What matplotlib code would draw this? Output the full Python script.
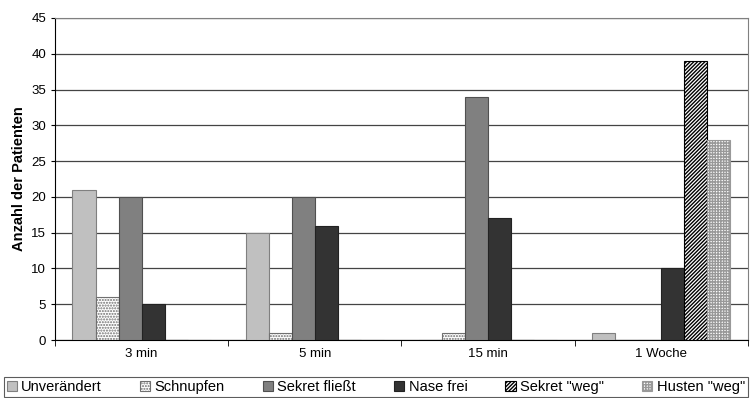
import numpy as np
import matplotlib.pyplot as plt
from matplotlib.patches import Patch

plt.rcParams['font.family'] = ['Liberation Sans', 'DejaVu Sans']
plt.rcParams['hatch.linewidth'] = 1.0

categories = ["3 min", "5 min", "15 min", "1 Woche"]
series = ["Unverändert", "Schnupfen", "Sekret fließt", "Nase frei", 'Sekret "weg"', 'Husten "weg"']
unveraendert = [21, 15, 0, 1]
schnupfen = [6, 1, 1, 0]
sekret_fliesst = [20, 20, 34, 0]
nase_frei = [5, 16, 17, 10]
sekret_weg = [0, 0, 0, 39]
husten_weg = [0, 0, 0, 28]
values = [unveraendert, schnupfen, sekret_fliesst, nase_frei, sekret_weg, husten_weg]

# face, edge, hatch
styles = [
    ("#c0c0c0", "#808080", None),
    ("white", "#707070", "......"),
    ("#808080", "#505050", None),
    ("#333333", "#222222", None),
    ("white", "black", "/////////"),
    ("white", "#999999", "++++++"),
]

fig = plt.figure(figsize=(7.5, 3.98), dpi=100)
ax = fig.add_axes([0.0733, 0.1457, 0.9237, 0.8091])

x = np.arange(len(categories))
w = 0.133
for i, (vals, (fc, ec, h)) in enumerate(zip(values, styles)):
    ax.bar(x + (i - 2.5) * w, vals, w, color=fc, edgecolor=ec, hatch=h,
           linewidth=0.8, zorder=3)

ax.set_xlim(-0.5, len(categories) - 0.5)
ax.set_ylim(0, 45)
ax.set_yticks(range(0, 46, 5))
ax.set_xticks(x)
ax.set_xticklabels(categories, fontsize=9.5)
ax.tick_params(axis='y', labelsize=9.5, length=3)
ax.tick_params(axis='x', length=0, pad=6)
ax.set_xticks(np.arange(-0.5, len(categories), 1), minor=True)
ax.tick_params(axis='x', which='minor', length=4, direction='out')
ax.grid(axis='y', color='#444444', linewidth=0.9, zorder=0)
ax.set_ylabel("Anzahl der Patienten", fontsize=10.5, fontweight='bold')
for s in ['top', 'right']:
    ax.spines[s].set_color('#808080')

handles = [Patch(facecolor=fc, edgecolor=ec, hatch=h, linewidth=0.8)
           for fc, ec, h in styles]
leg = fig.legend(handles, series, loc='lower left', ncol=6, mode='expand',
                 bbox_to_anchor=(0.005, 0.002, 0.992, 0.055), fontsize=10.5,
                 frameon=True, fancybox=False, edgecolor='#333333',
                 handlelength=0.7, handleheight=0.7, handletextpad=0.3,
                 borderpad=0.2, borderaxespad=0)
leg.get_frame().set_linewidth(0.8)

fig.savefig("out.png", dpi=100)
